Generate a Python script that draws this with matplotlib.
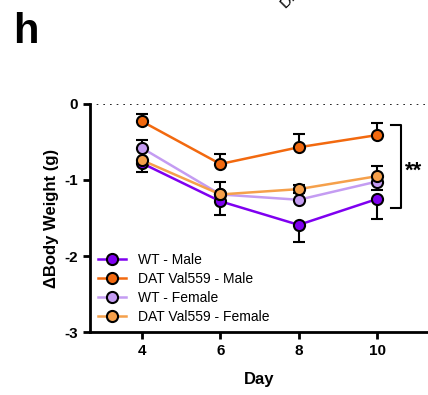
import matplotlib.pyplot as plt
import numpy as np

days = [4, 6, 8, 10]
labels = ["WT - Male", "DAT Val559 - Male", "WT - Female", "DAT Val559 - Female"]
colors = ["#7F00F0", "#F2690F", "#C49CF2", "#F5A04B"]

wt_male = [-0.78, -1.28, -1.59, -1.25]
wt_male_lo = [0.12, 0.18, 0.23, 0.26]
wt_male_hi = [0, 0, 0, 0]

dat_male = [-0.23, -0.79, -0.57, -0.41]
dat_male_lo = [0, 0, 0, 0]
dat_male_hi = [0.10, 0.13, 0.17, 0.16]

wt_female = [-0.58, -1.19, -1.26, -1.02]
wt_female_lo = [0, 0, 0, 0.11]
wt_female_hi = [0.10, 0.16, 0, 0]

dat_female = [-0.74, -1.19, -1.12, -0.95]
dat_female_lo = [0, 0, 0.05, 0]
dat_female_hi = [0, 0, 0.05, 0.13]

series = [
    (wt_male, wt_male_lo, wt_male_hi),
    (dat_male, dat_male_lo, dat_male_hi),
    (wt_female, wt_female_lo, wt_female_hi),
    (dat_female, dat_female_lo, dat_female_hi),
]

plt.rcParams['font.family'] = ['Liberation Sans', 'DejaVu Sans']

fig = plt.figure(figsize=(4.28, 3.95), dpi=100)
ax = fig.add_axes([0.210, 0.159, 0.79, 0.578])

ax.axhline(0, color="black", linestyle=(0, (1, 3)), linewidth=1.2, zorder=1)

# draw back to front like the original
order = [3, 2, 1, 0]
for i in order:
    y, lo, hi = series[i]
    ax.errorbar(days, y, yerr=[lo, hi], fmt="none", ecolor="black",
                elinewidth=1.5, capsize=4, capthick=1.5, zorder=2 + i * 0.1)
for i in order:
    y, lo, hi = series[i]
    ax.plot(days, y, color=colors[i], linewidth=1.8, marker="o", markersize=8,
            markerfacecolor=colors[i], markeredgecolor="black", markeredgewidth=1.5,
            label=labels[i], zorder=3 + i * 0.1)

ax.set_xlim(2.67, 11.3)
ax.set_ylim(-3, 0)
ax.set_xticks(days)
ax.set_yticks([0, -1, -2, -3])
ax.set_yticklabels(["0", "-1", "-2", "-3"])

for s in ["top", "right"]:
    ax.spines[s].set_visible(False)
for s in ["left", "bottom"]:
    ax.spines[s].set_linewidth(2)
ax.tick_params(width=2, length=5, labelsize=11)
for t in ax.get_xticklabels() + ax.get_yticklabels():
    t.set_fontweight("bold")

ax.set_xlabel("Day", fontsize=12, fontweight="bold", labelpad=10)
ax.set_ylabel("\u0394Body Weight (g)", fontsize=12, fontweight="bold", labelpad=4)

handles, labs = ax.get_legend_handles_labels()
idx = [labs.index(l) for l in labels]
ax.legend([handles[k] for k in idx], labels, loc="lower left", frameon=False,
          fontsize=10, handlelength=2.0, handletextpad=0.9, labelspacing=0.35,
          borderaxespad=0.2, bbox_to_anchor=(0.0, 0.0))

# significance bracket
ax.plot([10.35, 10.6, 10.6, 10.35], [-0.28, -0.28, -1.37, -1.37],
        color="black", linewidth=1.5, clip_on=False)
ax.text(10.72, -0.88, "**", fontsize=16, fontweight="bold", va="center",
        ha="left", clip_on=False)

fig.text(0.03, 0.92, "h", fontsize=30, fontweight="bold", va="center")
fig.text(0.668, 0.978, "DAT Val559", fontsize=11, rotation=45, ha="left",
         va="baseline", rotation_mode="anchor")

fig.savefig("out.png", dpi=100)
